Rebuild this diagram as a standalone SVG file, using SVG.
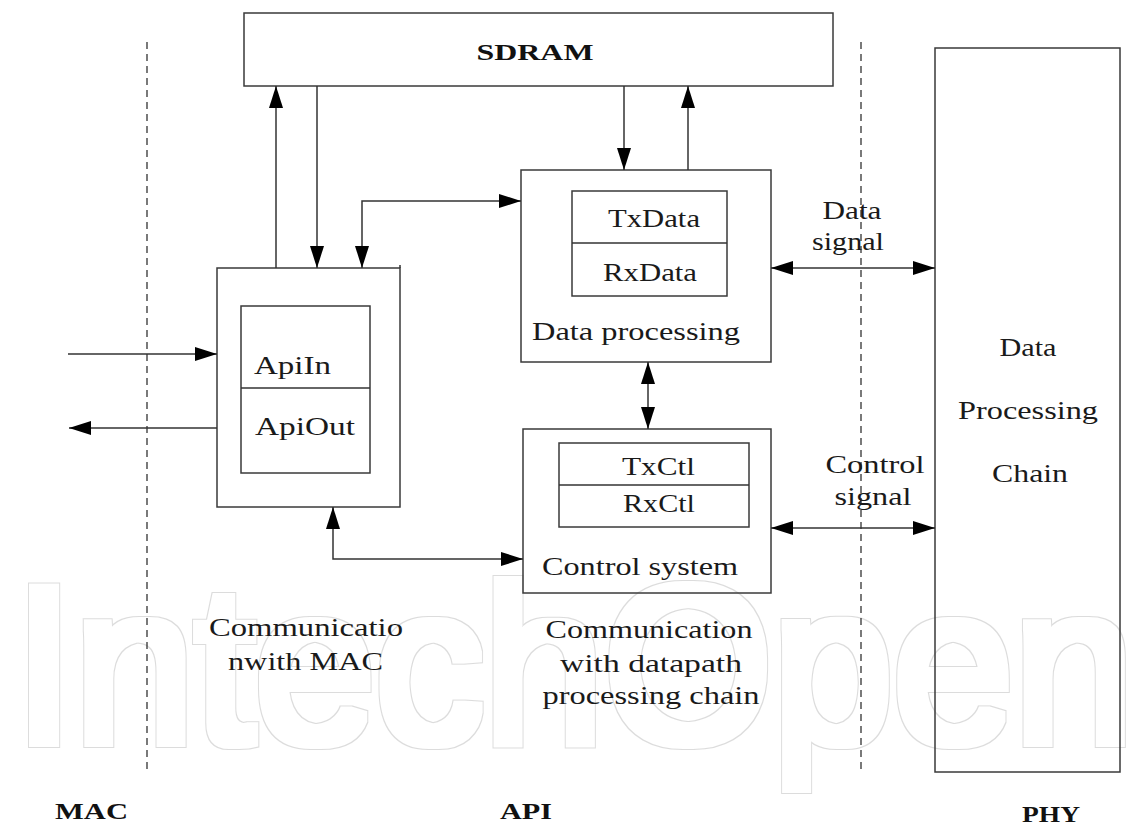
<svg xmlns="http://www.w3.org/2000/svg" width="1145" height="826" viewBox="0 0 1145 826">
<style>
.bg{fill:#fff}
.wm{font-family:"Liberation Sans",Arial,sans-serif;font-size:222px;fill:#000}
.box{fill:none;stroke:#3a3a3a;stroke-width:1.5}
.ibox{fill:none;stroke:#3a3a3a;stroke-width:1.5}
.ln{fill:none;stroke:#333;stroke-width:1.5}
.dash{fill:none;stroke:#222;stroke-width:1.2;stroke-dasharray:7 5}
.t{font-family:"Liberation Serif","Times New Roman",serif;font-size:25px;fill:#1a1a1a}
.b{font-family:"Liberation Serif","Times New Roman",serif;font-size:24px;font-weight:bold;fill:#111}
.m{text-anchor:middle}
</style>
<defs>
<marker id="ah" viewBox="0 0 22 14" refX="22" refY="7" markerWidth="22" markerHeight="14" markerUnits="userSpaceOnUse" orient="auto-start-reverse">
<path d="M0,0 L22,7 L0,14 z" fill="#000"/>
</marker>
<filter id="outl" x="-5%" y="-20%" width="110%" height="140%">
<feMorphology in="SourceAlpha" operator="dilate" radius="6" result="big"/>
<feMorphology in="SourceAlpha" operator="dilate" radius="4.6" result="small"/>
<feComposite in="big" in2="small" operator="out" result="ring"/>
<feFlood flood-color="#dcdcdc"/>
<feComposite in2="ring" operator="in"/>
</filter>
</defs>
<rect class="bg" x="0" y="0" width="1145" height="826"/>
<g id="watermark" filter="url(#outl)">
<text class="wm" x="14" y="742" textLength="1120" lengthAdjust="spacingAndGlyphs">IntechOpen</text>
</g>
<g id="dividers">
<line class="dash" x1="147" y1="42" x2="147" y2="769"/>
<line class="dash" x1="861" y1="42" x2="861" y2="772"/>
</g>
<g id="sdram">
<rect class="box" x="244" y="13" width="589" height="73"/>
<text class="b m" x="535" y="60" textLength="117" lengthAdjust="spacingAndGlyphs">SDRAM</text>
</g>
<g id="api-mac">
<rect class="box" x="217" y="268" width="183" height="239"/>
<line class="ln" x1="400" y1="265" x2="400" y2="268"/>
<rect class="ibox" x="241" y="306" width="129" height="167"/>
<line class="ln" x1="241" y1="388" x2="370" y2="388"/>
<text class="t" x="254" y="374" textLength="77" lengthAdjust="spacingAndGlyphs">ApiIn</text>
<text class="t" x="255" y="435" textLength="100" lengthAdjust="spacingAndGlyphs">ApiOut</text>
</g>
<g id="data-processing">
<rect class="box" x="521" y="170" width="250" height="192"/>
<rect class="ibox" x="572" y="191" width="155" height="105"/>
<line class="ln" x1="572" y1="243" x2="727" y2="243"/>
<text class="t" x="608" y="227" textLength="92" lengthAdjust="spacingAndGlyphs">TxData</text>
<text class="t" x="603" y="281" textLength="94" lengthAdjust="spacingAndGlyphs">RxData</text>
<text class="t" x="532" y="340" textLength="208" lengthAdjust="spacingAndGlyphs">Data processing</text>
</g>
<g id="control-system">
<rect class="box" x="523" y="429" width="248" height="164"/>
<rect class="ibox" x="559" y="443" width="190" height="84"/>
<line class="ln" x1="559" y1="485" x2="749" y2="485"/>
<text class="t" x="622" y="475" textLength="73" lengthAdjust="spacingAndGlyphs">TxCtl</text>
<text class="t" x="623" y="512" textLength="72" lengthAdjust="spacingAndGlyphs">RxCtl</text>
<text class="t" x="542" y="575" textLength="196" lengthAdjust="spacingAndGlyphs">Control system</text>
</g>
<g id="phy-chain">
<rect class="box" x="935" y="48" width="185" height="724"/>
<text class="t m" x="1028" y="356" textLength="57" lengthAdjust="spacingAndGlyphs">Data</text>
<text class="t m" x="1028" y="419" textLength="140" lengthAdjust="spacingAndGlyphs">Processing</text>
<text class="t m" x="1030" y="482" textLength="76" lengthAdjust="spacingAndGlyphs">Chain</text>
</g>
<g id="connectors">
<path class="ln" d="M276 268 L276 86" marker-end="url(#ah)"/>
<path class="ln" d="M317 86 L317 268" marker-end="url(#ah)"/>
<path class="ln" d="M362 268 L362 201 L521 201" marker-start="url(#ah)" marker-end="url(#ah)"/>
<path class="ln" d="M624 86 L624 170" marker-end="url(#ah)"/>
<path class="ln" d="M688 170 L688 86" marker-end="url(#ah)"/>
<path class="ln" d="M648 362 L648 429" marker-start="url(#ah)" marker-end="url(#ah)"/>
<path class="ln" d="M771 268 L935 268" marker-start="url(#ah)" marker-end="url(#ah)"/>
<path class="ln" d="M771 528 L935 528" marker-start="url(#ah)" marker-end="url(#ah)"/>
<path class="ln" d="M68 354 L217 354" marker-end="url(#ah)"/>
<path class="ln" d="M217 428 L69 428" marker-end="url(#ah)"/>
<path class="ln" d="M333 507 L333 559 L523 559" marker-start="url(#ah)" marker-end="url(#ah)"/>
</g>
<g id="labels">
<text class="t m" x="852" y="219" textLength="59" lengthAdjust="spacingAndGlyphs">Data</text>
<text class="t m" x="848" y="250" textLength="72" lengthAdjust="spacingAndGlyphs">signal</text>
<text class="t m" x="875" y="473" textLength="99" lengthAdjust="spacingAndGlyphs">Control</text>
<text class="t m" x="873" y="505" textLength="77" lengthAdjust="spacingAndGlyphs">signal</text>
<text class="t" x="209" y="636" textLength="194" lengthAdjust="spacingAndGlyphs">Communicatio</text>
<text class="t" x="228" y="670" textLength="155" lengthAdjust="spacingAndGlyphs">nwith MAC</text>
<text class="t m" x="649" y="638" textLength="207" lengthAdjust="spacingAndGlyphs">Communication</text>
<text class="t m" x="651" y="672" textLength="182" lengthAdjust="spacingAndGlyphs">with datapath</text>
<text class="t m" x="651" y="704" textLength="217" lengthAdjust="spacingAndGlyphs">processing chain</text>
<text class="b" x="55" y="819" textLength="73" lengthAdjust="spacingAndGlyphs">MAC</text>
<text class="b" x="500" y="819" textLength="52" lengthAdjust="spacingAndGlyphs">API</text>
<text class="b" x="1022" y="822" textLength="58" lengthAdjust="spacingAndGlyphs">PHY</text>
</g>
</svg>
